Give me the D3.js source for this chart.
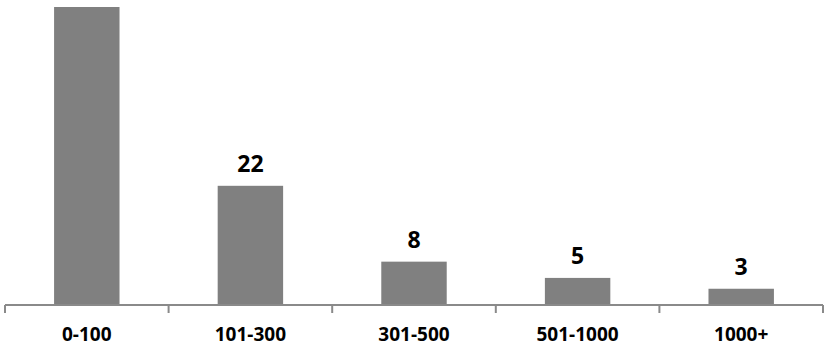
<!DOCTYPE html>
<html>
<head>
<meta charset="utf-8">
<script src="https://cdn.jsdelivr.net/npm/d3@7"></script>
<style>
body { margin: 0; background: #fff; }
text { font-family: "Open Sans", sans-serif; font-weight: 700; fill: #000; }
</style>
</head>
<body>
<svg id="chart"></svg>
<script>
var categories = ["0-100", "101-300", "301-500", "501-1000", "1000+"];
var values = [55, 22, 8, 5, 3];

var width = 832;
var height = 352;
var baseline = 305;

var svg = d3.select("#chart")
    .attr("width", width)
    .attr("height", height);

//band scale, bars take 40% of each slot
var xScale = d3.scaleBand()
    .domain(categories)
    .range([5, 823])
    .paddingInner(0.6)
    .paddingOuter(0.3);

var yScale = d3.scaleLinear()
    .domain([0, 55])
    .range([baseline, 7]);

var step = xScale.step();

//draw the bars
svg.selectAll("rect")
    .data(values)
    .enter()
    .append("rect")
    .attr("x", function(d, i) { return xScale(categories[i]); })
    .attr("y", function(d) { return yScale(d); })
    .attr("width", xScale.bandwidth())
    .attr("height", function(d) { return baseline - yScale(d); })
    .attr("fill", "#808080");

//value labels (the tallest one falls above the picture, so skip it)
svg.selectAll(".value")
    .data(values.map(function(d, i) { return {v: d, c: categories[i]}; })
        .filter(function(d) { return yScale(d.v) - 14 > 20; }))
    .enter()
    .append("text")
    .attr("class", "value")
    .attr("x", function(d) { return xScale(d.c) + xScale.bandwidth() / 2; })
    .attr("y", function(d) { return yScale(d.v) - 14; })
    .attr("text-anchor", "middle")
    .style("font-size", "23px")
    .text(function(d) { return d.v; });

//axis line
svg.append("line")
    .attr("x1", 5)
    .attr("x2", 823)
    .attr("y1", baseline)
    .attr("y2", baseline)
    .attr("stroke", "#8a8a8a")
    .attr("stroke-width", 2);

//boundary ticks
var bounds = d3.range(categories.length + 1);
svg.selectAll(".tick")
    .data(bounds)
    .enter()
    .append("line")
    .attr("class", "tick")
    .attr("x1", function(i) { return 5 + i * step; })
    .attr("x2", function(i) { return 5 + i * step; })
    .attr("y1", baseline)
    .attr("y2", baseline + 8)
    .attr("stroke", "#8a8a8a")
    .attr("stroke-width", 2);

//category labels
svg.selectAll(".cat")
    .data(categories)
    .enter()
    .append("text")
    .attr("class", "cat")
    .attr("x", function(c) { return xScale(c) + xScale.bandwidth() / 2; })
    .attr("y", 341)
    .attr("text-anchor", "middle")
    .style("font-size", "19px")
    .text(function(c) { return c; });
</script>
</body>
</html>
